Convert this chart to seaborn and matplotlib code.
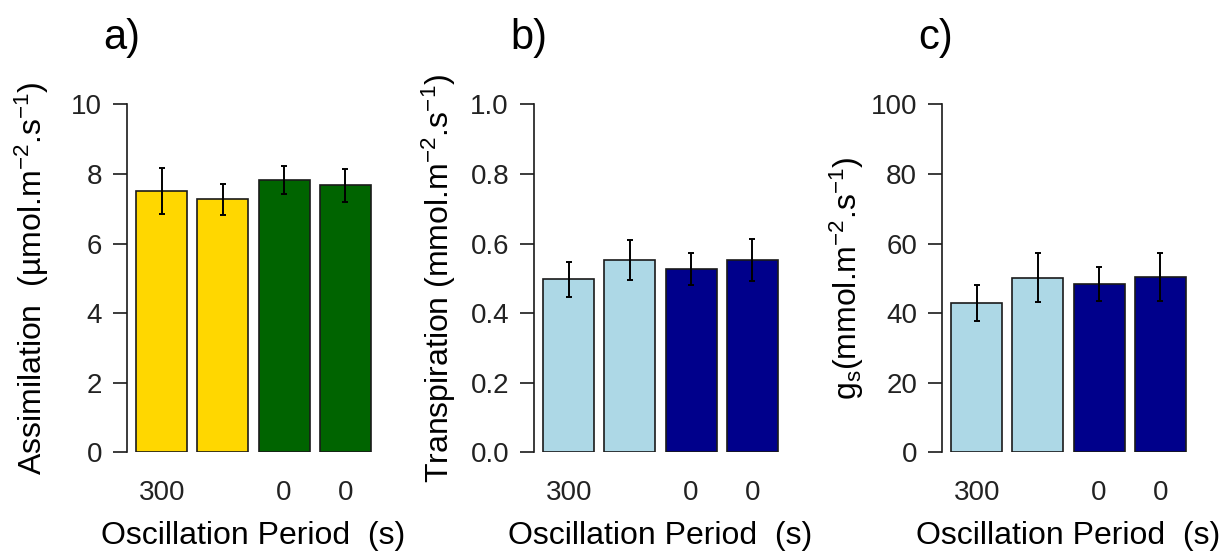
import matplotlib
matplotlib.use("Agg")
import matplotlib.pyplot as plt
import seaborn as sns
import numpy as np

# Treatments shown left to right in every panel
treatments = ["osc300_a", "osc300_b", "osc0_a", "osc0_b"]
period_labels = ["300", "", "0", "0"]

# a) Assimilation (umol m-2 s-1): means and standard errors
assim_mean = [7.52, 7.27, 7.82, 7.67]
assim_se = [0.66, 0.45, 0.41, 0.47]

# b) Transpiration (mmol m-2 s-1)
transp_mean = [0.497, 0.552, 0.527, 0.552]
transp_se = [0.050, 0.058, 0.046, 0.060]

# c) Stomatal conductance gs (mmol m-2 s-1)
gs_mean = [42.9, 50.2, 48.4, 50.4]
gs_se = [5.3, 7.1, 4.8, 6.8]

assim_colors = ["#FFD700", "#FFD700", "#006400", "#006400"]
water_colors = ["#ADD8E6", "#ADD8E6", "#00008B", "#00008B"]

sns.set_style("ticks")
plt.rcParams["font.family"] = ["Liberation Sans", "DejaVu Sans"]
plt.rcParams["mathtext.fontset"] = "custom"
plt.rcParams["mathtext.rm"] = "Liberation Sans"
plt.rcParams["mathtext.it"] = "Liberation Sans:italic"
plt.rcParams["mathtext.bf"] = "Liberation Sans:bold"

W, H = 1231, 552
fig = plt.figure(figsize=(W / 100, H / 100), dpi=100)
fig.patch.set_facecolor("white")

panels = [
    dict(left=127, mean=assim_mean, se=assim_se, colors=assim_colors,
         ymax=10, ticks=[0, 2, 4, 6, 8, 10], fmt="{:g}",
         ylabel="Assimilation  (µmol.m$^{-2}$.s$^{-1}$)", tag="a)"),
    dict(left=534, mean=transp_mean, se=transp_se, colors=water_colors,
         ymax=1.0, ticks=[0, 0.2, 0.4, 0.6, 0.8, 1.0], fmt="{:.1f}",
         ylabel=r"Transpiration (mmol.m$^{-2}$.s$^{-1}$)", tag="b)"),
    dict(left=942, mean=gs_mean, se=gs_se, colors=water_colors,
         ymax=100, ticks=[0, 20, 40, 60, 80, 100], fmt="{:g}",
         ylabel=r"g$_\mathrm{s}$(mmol.m$^{-2}$.s$^{-1}$)", tag="c)"),
]

ax_w = 253
ax_top, ax_bot = 104.3, 452.3
tick_color = "#222222"

for p in panels:
    ax = fig.add_axes([p["left"] / W, (H - ax_bot) / H, ax_w / W, (ax_bot - ax_top) / H])
    sns.barplot(x=treatments, y=p["mean"], hue=treatments, palette=p["colors"],
                saturation=1, width=0.835, edgecolor="#1a1a1a", linewidth=1.2,
                errorbar=None, legend=False, ax=ax)
    ax.errorbar(np.arange(len(treatments)), p["mean"], yerr=p["se"], fmt="none",
                ecolor="black", elinewidth=1.4, capsize=2.5, capthick=1.4, zorder=5)

    ax.set_xlim(-0.57, 3.57)
    ax.set_ylim(0, p["ymax"])
    ax.set_yticks(p["ticks"])
    ax.set_yticklabels([p["fmt"].format(t) for t in p["ticks"]])
    ax.set_xticks(np.arange(len(treatments)))
    ax.set_xticklabels(period_labels)

    for s in ["top", "right", "bottom"]:
        ax.spines[s].set_visible(False)
    ax.spines["left"].set_linewidth(1.2)
    ax.spines["left"].set_color("#1a1a1a")
    ax.spines["left"].set_bounds(0, p["ymax"])

    ax.tick_params(axis="y", length=10, width=1.2, color="#1a1a1a", pad=8,
                   labelsize=20, labelcolor=tick_color)
    ax.tick_params(axis="x", length=0, pad=20, labelsize=20, labelcolor=tick_color)

    ax.set_xlabel("Oscillation Period  (s)", fontsize=23, color="black", labelpad=11)
    ax.set_ylabel(p["ylabel"], fontsize=23, color="black")
    ax.yaxis.set_label_coords(-76 / ax_w, 0.5)
    ax.set_facecolor("white")

    fig.text((p["left"] - 24) / W, 1 - 38 / H, p["tag"], fontsize=30,
             ha="left", va="center", color="black")

fig.savefig("out.png", dpi=100, facecolor="white")
